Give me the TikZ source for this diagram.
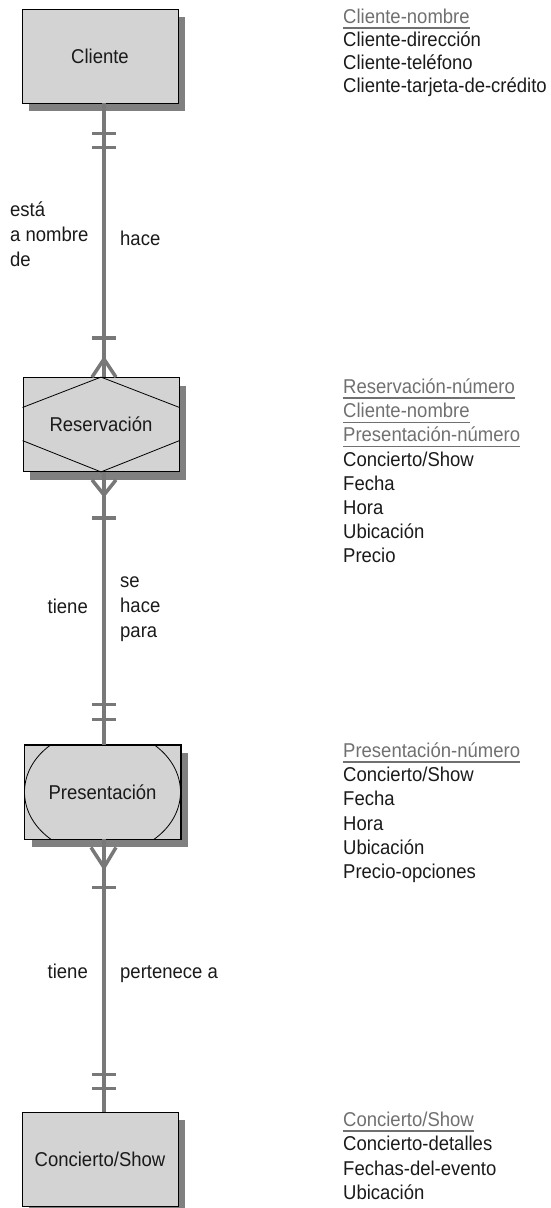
\documentclass[tikz,border=0pt]{standalone}
\usepackage{fontspec}
\setmainfont{Liberation Sans}[FakeStretch=0.925]
\usetikzlibrary{calc,shadows}
\definecolor{boxgray}{HTML}{D3D3D3}
\definecolor{shadowgray}{HTML}{808080}
\definecolor{linegray}{HTML}{787878}
\definecolor{keygray}{HTML}{707070}
\definecolor{txt}{HTML}{1A1A1A}
\begin{document}
\begin{tikzpicture}[x=1pt,y=-1pt,
  font=\fontsize{20}{24}\selectfont,
  entity/.style={draw=black, line width=0.8pt, fill=boxgray, minimum width=156pt,
    minimum height=94pt, inner sep=0pt, text height=14.5pt, text depth=0pt, text=txt,
    drop shadow={shadow xshift=7pt, shadow yshift=-8pt, fill=shadowgray, opacity=1}},
  attr/.style={anchor=base west, inner sep=0pt, text=txt},
  key/.style={anchor=base west, inner sep=0pt, text=keygray},
  uline/.style={draw=keygray, line width=1.2pt},
  rel/.style={anchor=base west, inner sep=0pt, text=txt},
  relr/.style={anchor=base east, inner sep=0pt, text=txt},
  conn/.style={draw=linegray, line width=4pt},
  bar/.style={draw=linegray, line width=3.5pt},
  foot/.style={draw=linegray, line width=3.5pt},
  inner/.style={draw=black, line width=0.8pt}
]
\useasboundingbox (0,0) rectangle (550,1208);
\coordinate (lx) at (104,0);

% entities
\node[entity] (cli) at (100,56) {Cliente};
\node[entity] (res) at (101,424.5) {Reservación};
\node[entity] (pres) at (102.5,792) {Presentación};
\node[entity] (con) at (100,1159) {Concierto/Show};

% hexagon inside Reservación
\draw[inner] (res.north) -- ($(res.north east)!0.32!(res.south east)$);
\draw[inner] ($(res.north east)!0.67!(res.south east)$) -- (res.south) -- ($(res.north west)!0.67!(res.south west)$);
\draw[inner] ($(res.north west)!0.32!(res.south west)$) -- (res.north);

% ellipse inside Presentación
\begin{scope}
\clip (pres.south west) rectangle (pres.north east);
\draw[inner] (pres.center) ellipse [x radius=78pt, y radius=63pt];
\end{scope}
\draw[draw=black, line width=0.8pt] (pres.south west) rectangle (pres.north east);

% connectors
\draw[conn] (cli.south -| lx) -- (res.north -| lx);
\draw[conn] (res.south -| lx) -- (pres.north -| lx);
\draw[conn] (pres.south -| lx) -- (con.north -| lx);

% Cliente side: one and only one
\draw[bar] ($(cli.south -| lx)+(-12,30)$) -- ++(24,0);
\draw[bar] ($(cli.south -| lx)+(-12,44)$) -- ++(24,0);
% Reservación top: one or many
\draw[bar] ($(res.north -| lx)+(-12,-39)$) -- ++(24,0);
\draw[foot] ($(res.north -| lx)+(0,-18)$) -- ($(res.north -| lx)+(-12,0)$);
\draw[foot] ($(res.north -| lx)+(0,-18)$) -- ($(res.north -| lx)+(12,0)$);
% Reservación bottom: one or many
\draw[foot] ($(res.south -| lx)+(0,23)$) -- ($(res.south -| lx)+(-12,8)$);
\draw[foot] ($(res.south -| lx)+(0,23)$) -- ($(res.south -| lx)+(12,8)$);
\draw[bar] ($(res.south -| lx)+(-12,46)$) -- ++(24,0);
% Presentación top: one and only one
\draw[bar] ($(pres.north -| lx)+(-12,-40)$) -- ++(24,0);
\draw[bar] ($(pres.north -| lx)+(-12,-25)$) -- ++(24,0);
% Presentación bottom: one or many
\draw[foot] ($(pres.south -| lx)+(0,28)$) -- ($(pres.south -| lx)+(-13,8)$);
\draw[foot] ($(pres.south -| lx)+(0,28)$) -- ($(pres.south -| lx)+(12,8)$);
\draw[bar] ($(pres.south -| lx)+(-12,48)$) -- ++(24,0);
% Concierto top: one and only one
\draw[bar] ($(con.north -| lx)+(-12,-37)$) -- ++(24,0);
\draw[bar] ($(con.north -| lx)+(-12,-23)$) -- ++(24,0);

% relationship labels
\node[rel] (l1a) at (10,216) {está};
\node[rel] (l1b) at (10,241) {a nombre};
\node[rel] (l1c) at (10,266) {de};
\node[rel] (l1d) at (120,245) {hace};
\node[relr] (l2a) at (88,613) {tiene};
\node[rel] (l2b) at (120,587) {se};
\node[rel] (l2c) at (120,612) {hace};
\node[rel] (l2d) at (120,637) {para};
\node[relr] (l3a) at (88,978) {tiene};
\node[rel] (l3b) at (120,978) {pertenece a};

% attributes: Cliente
\node[key]  (a1) at (343,23.5) {Cliente-nombre};
\node[attr] (a2) at (343,46.5) {Cliente-dirección};
\node[attr] (a3) at (343,69.5) {Cliente-teléfono};
\node[attr] (a4) at (343,92.5) {Cliente-tarjeta-de-crédito};
% attributes: Reservación
\node[key]  (b1) at (343,393.5) {Reservación-número};
\node[key]  (b2) at (343,417.7) {Cliente-nombre};
\node[key]  (b3) at (343,441.9) {Presentación-número};
\node[attr] (b4) at (343,466.1) {Concierto/Show};
\node[attr] (b5) at (343,490.3) {Fecha};
\node[attr] (b6) at (343,514.5) {Hora};
\node[attr] (b7) at (343,538.7) {Ubicación};
\node[attr] (b8) at (343,562.9) {Precio};
% attributes: Presentación
\node[key]  (c1) at (343,757.5) {Presentación-número};
\node[attr] (c2) at (343,781.7) {Concierto/Show};
\node[attr] (c3) at (343,805.9) {Fecha};
\node[attr] (c4) at (343,830.1) {Hora};
\node[attr] (c5) at (343,854.3) {Ubicación};
\node[attr] (c6) at (343,878.5) {Precio-opciones};
% attributes: Concierto/Show
\node[key]  (d1) at (343,1126.5) {Concierto/Show};
\node[attr] (d2) at (343,1150.8) {Concierto-detalles};
\node[attr] (d3) at (343,1175.1) {Fechas-del-evento};
\node[attr] (d4) at (343,1199.4) {Ubicación};

% underlines of key attributes
\foreach \k in {a1,b1,b2,b3,c1,d1}
  \draw[uline] ([yshift=-4.5pt]\k.base west) -- ([yshift=-4.5pt]\k.base east);
\end{tikzpicture}
\end{document}
